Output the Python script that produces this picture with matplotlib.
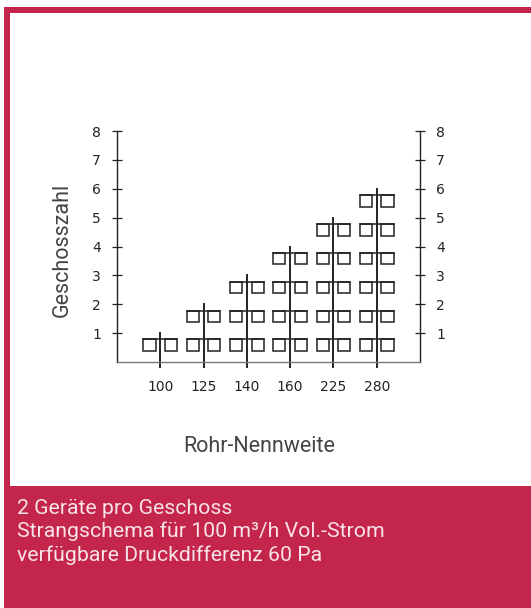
import matplotlib.pyplot as plt
from matplotlib.patches import Rectangle

plt.rcParams['font.family'] = ['Roboto', 'DejaVu Sans']

# Daten
nennweite = ["100", "125", "140", "160", "225", "280"]
geschosse = [1, 2, 3, 4, 5, 6]
y_ticks = [1, 2, 3, 4, 5, 6, 7, 8]
footer = ["2 Geräte pro Geschoss",
          "Strangschema für 100 m³/h Vol.-Strom",
          "verfügbare Druckdifferenz 60 Pa"]

W, H = 531, 608
ROT = "#c4254a"
INK = "#222222"

fig = plt.figure(figsize=(W / 100, H / 100), dpi=100)


def px_rect(x0, y0, x1, y1, color):
    # Rechteck in Pixel (Ursprung oben links)
    fig.add_artist(Rectangle((x0 / W, 1 - y1 / H), (x1 - x0) / W, (y1 - y0) / H,
                             transform=fig.transFigure, color=color, lw=0))


# Rahmen
px_rect(4, 7, W, 13, ROT)
px_rect(4, 7, 10, 487, ROT)
px_rect(4, 486, W, H, ROT)

for i, line in enumerate(footer):
    fig.text(17 / W, 1 - (508 + i * 23.5) / H, line, color="#f8e3e8",
             fontsize=15.3, va="center", ha="left")

# Diagramm
ax_l, ax_r, ax_b, ax_t = 117, 420, 362, 131
ax = fig.add_axes([ax_l / W, 1 - ax_b / H, (ax_r - ax_l) / W, (ax_b - ax_t) / H])
ax.set_xlim(0, len(nennweite) + 1)
ax.set_ylim(0, 8)

ax.spines["top"].set_visible(False)
for s in ["left", "right"]:
    ax.spines[s].set_linewidth(1.0)
    ax.spines[s].set_color(INK)
ax.spines["bottom"].set_linewidth(1.0)
ax.spines["bottom"].set_color("#777777")

ax.set_yticks(y_ticks)
ax.set_yticklabels([str(v) for v in y_ticks], family="DejaVu Sans")
ax.tick_params(axis="y", direction="inout", length=7, width=0.9, color=INK,
               labelsize=10, labelcolor=INK, pad=8, left=True, right=True,
               labelleft=True, labelright=True)

xs = list(range(1, len(nennweite) + 1))
ax.set_xticks(xs)
ax.set_xticklabels(nennweite, family="DejaVu Sans")
ax.tick_params(axis="x", length=0, labelsize=10, labelcolor=INK, pad=13)

# Strangschema
bw, gap = 0.28, 0.11
for x, n in zip(xs, geschosse):
    ax.plot([x, x], [-0.18, n], color=INK, lw=1.4, clip_on=False)
    for j in range(1, n + 1):
        top, bot = j - 0.22, j - 0.62
        ax.plot([x - gap - bw, x + gap + bw], [top, top], color=INK, lw=1.1)
        for x0 in (x - gap - bw, x + gap):
            ax.add_patch(Rectangle((x0, bot), bw, top - bot, fill=False,
                                   edgecolor=INK, lw=1.1))

fig.text(62 / W, 1 - 250 / H, "Geschosszahl", rotation=90, fontsize=15.5,
         ha="center", va="center", color="#444444")
fig.text(259 / W, 1 - 447 / H, "Rohr-Nennweite", fontsize=15.5,
         ha="center", va="center", color="#444444")

fig.savefig("out.png", dpi=100)
